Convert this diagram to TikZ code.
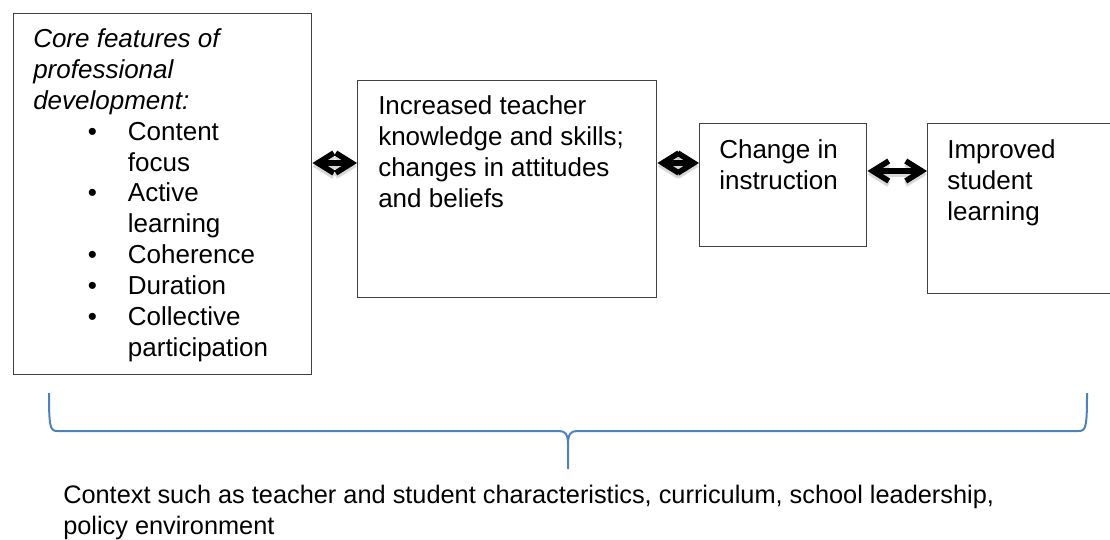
\documentclass[tikz,border=0pt]{standalone}
\usepackage{fontspec}
\setmainfont{Liberation Sans}
\usepackage{xcolor}
\usetikzlibrary{positioning, arrows.meta}

\definecolor{braceblue}{HTML}{4F81BD}
\definecolor{boxline}{HTML}{404040}

% strut for the first line, bullet rows and their continuation
\newcommand{\firstrow}{\rule{0pt}{15pt}}
\newcommand{\pditem}[1]{\hspace*{41pt}\makebox[30pt][l]{\textbullet}#1}
\newcommand{\pdcont}[1]{\hspace*{71pt}#1}

\tikzset{
  barbs/.style={{Straight Barb[length=12pt, width=15pt]}-{Straight Barb[length=12pt, width=15pt]}},
}

\begin{document}
\begin{tikzpicture}[x=0.75pt, y=-0.75pt,
    box/.style={draw=boxline, line width=1.1pt, rectangle, inner sep=0pt, anchor=north west},
    txt/.style={inner sep=0pt, align=left, font=\fontsize{19.5}{23.2}\selectfont},
    link/.style={barbs, line width=4.2pt,
      preaction={barbs, draw, black!30, opacity=.5, line width=4.2pt, transform canvas={yshift=-2.5pt}}},
    brace/.style={draw=braceblue, line width=1.5pt}]

    \useasboundingbox (0,0) rectangle (1110,539);

    % 1. Boxes
    \node[box, minimum width=223.5pt, minimum height=270.75pt] (core) at (13,13) {};
    \node[box, minimum width=224.25pt, minimum height=162.75pt] (knowledge) at (357,80) {};
    \node[box, minimum width=125.25pt, minimum height=92.25pt] (instruction) at (699,123) {};
    \node[box, minimum width=142.5pt, minimum height=127.5pt] (learning) at (927,123) {};

    % 2. Box texts
    \node[txt, below right=10.5pt and 15pt of core.north west] (coretext)
      {\firstrow\textit{Core features of}\\ \textit{professional}\\ \textit{development:}\\
       \pditem{Content}\\ \pdcont{focus}\\ \pditem{Active}\\ \pdcont{learning}\\
       \pditem{Coherence}\\ \pditem{Duration}\\ \pditem{Collective}\\ \pdcont{participation}};
    \node[txt, below right=10.5pt and 15.75pt of knowledge.north west] (knowledgetext)
      {\firstrow Increased teacher\\ knowledge and skills;\\ changes in attitudes\\ and beliefs};
    \node[txt, below right=11.25pt and 15pt of instruction.north west] (instructiontext)
      {\firstrow Change in\\ instruction};
    \node[txt, below right=11.25pt and 15pt of learning.north west] (learningtext)
      {\firstrow Improved\\ student\\ learning};

    % 3. Arrows between the boxes
    \coordinate (row) at (0,163);
    \coordinate (rowlow) at (0,171);
    \draw[link] (core.east |- row) -- (knowledge.west |- row);
    \draw[link] (knowledge.east |- row) -- (instruction.west |- row);
    \draw[link] (instruction.east |- rowlow) -- (learning.west |- rowlow);

    % 4. Brace and context
    \draw[brace] (49,393) .. controls (49,426) and (50,431) .. (57,431) -- (559,431)
      .. controls (565,431) and (568,434) .. (568,444) -- (568,469);
    \draw[brace] (568,444) .. controls (568,434) and (571,431) .. (577,431) -- (1079,431)
      .. controls (1086,431) and (1087,426) .. (1087,393);
    \node[txt, anchor=north west, font=\fontsize{19}{23.2}\selectfont] (context) at (63,483)
      {\firstrow Context such as teacher and student characteristics, curriculum, school leadership,\\ policy environment};

\end{tikzpicture}
\end{document}
